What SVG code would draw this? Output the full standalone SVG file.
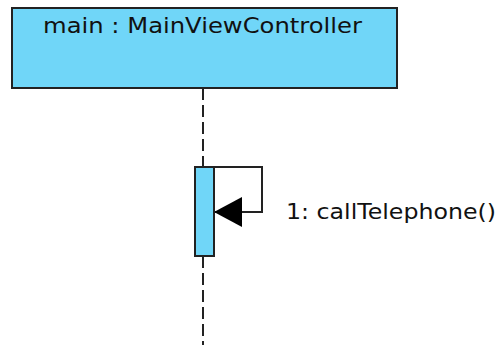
<svg xmlns="http://www.w3.org/2000/svg" width="499" height="345" viewBox="0 0 499 345">
  <style>
    .box { fill: #70d6f8; stroke: #222; stroke-width: 2; }
    .lbl { font-family: "DejaVu Sans", "Liberation Sans", sans-serif; font-size: 21px; fill: #111; }
    .life { stroke: #222; stroke-width: 2; stroke-dasharray: 12 5; fill: none; }
    .msg { stroke: #222; stroke-width: 2; fill: none; }
  </style>
  <defs>
    <marker id="arrow" viewBox="0 0 28 30" refX="28" refY="15" markerWidth="28" markerHeight="30" markerUnits="userSpaceOnUse" orient="auto">
      <path d="M0,0 L28,15 L0,30 Z" fill="#000"/>
    </marker>
  </defs>

  <!-- lifeline and self-call -->
  <g id="connectors">
    <line class="life" x1="203" y1="88" x2="203" y2="167"/>
    <line class="life" x1="203" y1="256" x2="203" y2="345"/>
    <polyline class="msg" points="214,167 262,167 262,212 214,212" marker-end="url(#arrow)"/>
  </g>

  <g id="main">
    <rect class="box" x="12" y="8" width="385" height="80"/>
    <text class="lbl" x="43" y="33" textLength="319" lengthAdjust="spacingAndGlyphs">main : MainViewController</text>
  </g>

  <g id="activation">
    <rect class="box" x="195" y="167" width="19" height="89"/>
  </g>

  <text class="lbl" x="286" y="219" textLength="210" lengthAdjust="spacingAndGlyphs">1: callTelephone()</text>
</svg>
